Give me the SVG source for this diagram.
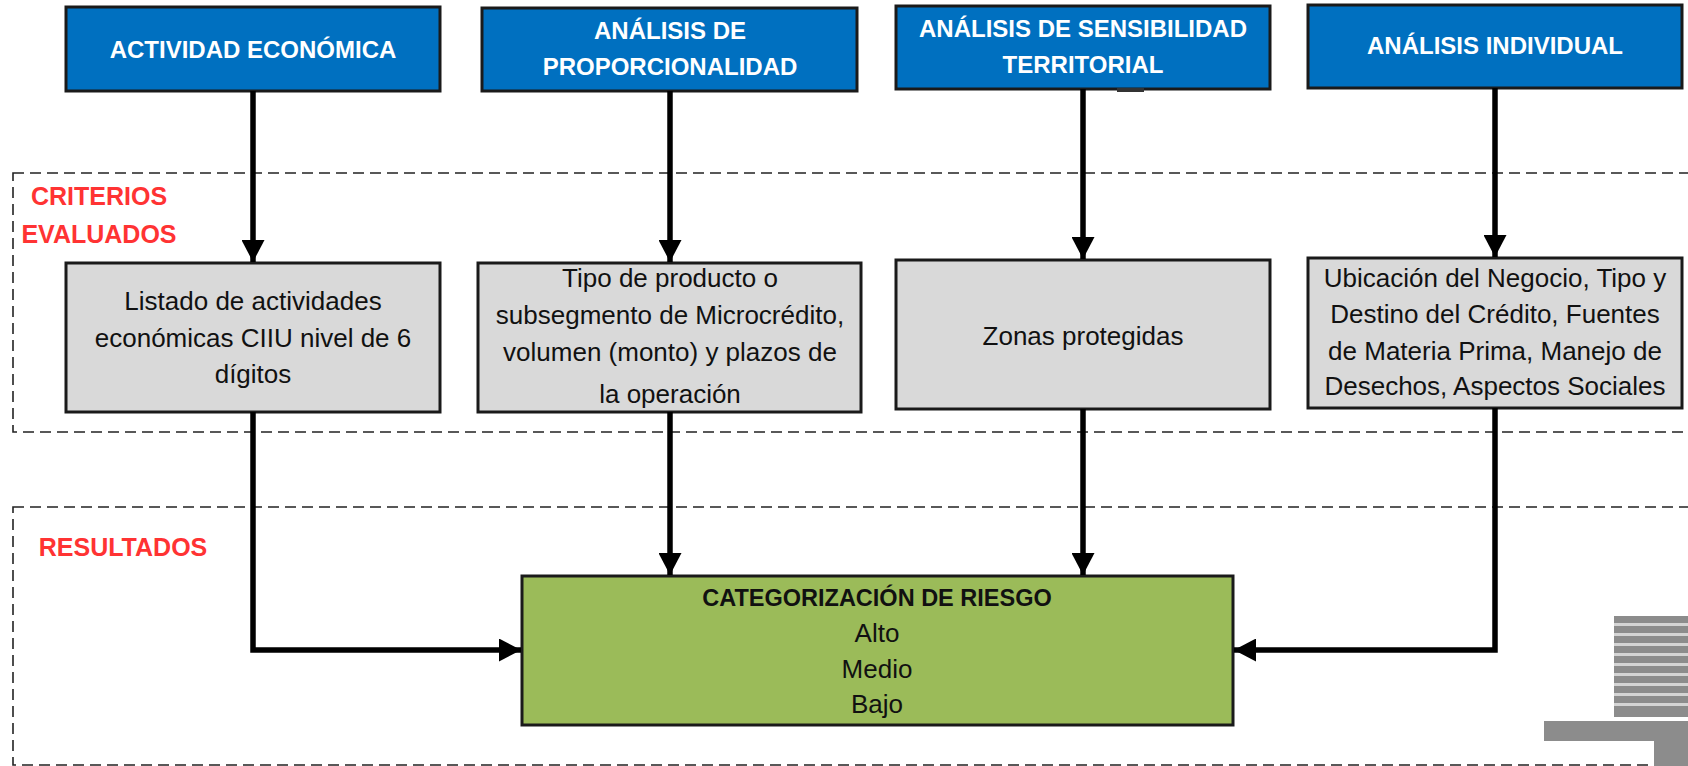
<svg xmlns="http://www.w3.org/2000/svg" width="1688" height="766" viewBox="0 0 1688 766">
<style>
.bg{fill:#ffffff}
.head rect{fill:#0070C0;stroke:#1a1a1a;stroke-width:3}
.head text{fill:#ffffff;font-family:"Liberation Sans",Arial,sans-serif;font-weight:bold;font-size:24px;text-anchor:middle}
.crit rect{fill:#D9D9D9;stroke:#1a1a1a;stroke-width:3}
.crit text{fill:#111111;font-family:"Liberation Sans",Arial,sans-serif;font-size:26px;text-anchor:middle}
.res rect{fill:#9BBB59;stroke:#1a1a1a;stroke-width:3}
.res text{fill:#111111;font-family:"Liberation Sans",Arial,sans-serif;font-size:26px;text-anchor:middle}
.res .title{font-weight:bold;font-size:23.5px}
.zone{fill:none;stroke:#222222;stroke-width:1.6;stroke-dasharray:11 6}
.zlabel{fill:#FF3333;font-family:"Liberation Sans",Arial,sans-serif;font-weight:bold;font-size:25px;text-anchor:middle}
.conn path{fill:none;stroke:#000000;stroke-width:5.5;stroke-linejoin:miter}
.logo{fill:#8c8c8c}
</style>
<defs>
<marker id="ah" viewBox="0 0 22 23" refX="22" refY="11.5" markerWidth="22" markerHeight="23" markerUnits="userSpaceOnUse" orient="auto">
<path d="M0,0 L22,11.5 L0,23 Z" fill="#000000"/>
</marker>
</defs>
<rect class="bg" x="0" y="0" width="1688" height="766"/>

<g id="zones">
<rect id="zone-criterios" class="zone" x="13" y="173" width="1700" height="259"/>
<rect id="zone-resultados" class="zone" x="13" y="507" width="1700" height="258"/>
<text class="zlabel" x="99" y="205">CRITERIOS</text>
<text class="zlabel" x="99" y="243">EVALUADOS</text>
<text class="zlabel" x="123" y="556">RESULTADOS</text>
</g>

<g id="logo">
<rect class="logo" x="1614" y="616" width="80" height="101"/>
<g fill="#d4d4d4">
<rect x="1614" y="623" width="80" height="3"/>
<rect x="1614" y="633" width="80" height="3"/>
<rect x="1614" y="643" width="80" height="3"/>
<rect x="1614" y="653" width="80" height="3"/>
<rect x="1614" y="663" width="80" height="3"/>
<rect x="1614" y="673" width="80" height="3"/>
<rect x="1614" y="683" width="80" height="3"/>
<rect x="1614" y="693" width="80" height="3"/>
<rect x="1614" y="703" width="80" height="3"/>
</g>
<rect class="logo" x="1544" y="721" width="150" height="20"/>
<rect class="logo" x="1654" y="741" width="40" height="30"/>
</g>

<g id="h1" class="head">
<rect x="66" y="7" width="374" height="84"/>
<text x="253" y="58">ACTIVIDAD ECONÓMICA</text>
</g>
<g id="h2" class="head">
<rect x="482" y="8" width="375" height="83"/>
<text x="670" y="39">ANÁLISIS DE</text>
<text x="670" y="75">PROPORCIONALIDAD</text>
</g>
<g id="h3" class="head">
<rect x="896" y="6" width="374" height="83"/>
<text x="1083" y="37">ANÁLISIS DE SENSIBILIDAD</text>
<text x="1083" y="73">TERRITORIAL</text>
<rect x="1117" y="88" width="27" height="4" style="fill:#333333;stroke:none"/>
</g>
<g id="h4" class="head">
<rect x="1308" y="5" width="374" height="83"/>
<text x="1495" y="54">ANÁLISIS INDIVIDUAL</text>
</g>

<g id="c1" class="crit">
<rect x="66" y="263" width="374" height="149"/>
<text x="253" y="310">Listado de actividades</text>
<text x="253" y="347">económicas CIIU nivel de 6</text>
<text x="253" y="383">dígitos</text>
</g>
<g id="c2" class="crit">
<rect x="478" y="263" width="383" height="149"/>
<text x="670" y="287">Tipo de producto o</text>
<text x="670" y="324">subsegmento de Microcrédito,</text>
<text x="670" y="361">volumen (monto) y plazos de</text>
<text x="670" y="403">la operación</text>
</g>
<g id="c3" class="crit">
<rect x="896" y="260" width="374" height="149"/>
<text x="1083" y="345">Zonas protegidas</text>
</g>
<g id="c4" class="crit">
<rect x="1308" y="258" width="374" height="150"/>
<text x="1495" y="287">Ubicación del Negocio, Tipo y</text>
<text x="1495" y="323">Destino del Crédito, Fuentes</text>
<text x="1495" y="360">de Materia Prima, Manejo de</text>
<text x="1495" y="395">Desechos, Aspectos Sociales</text>
</g>

<g id="result" class="res">
<rect x="522" y="576" width="711" height="149"/>
<text class="title" x="877" y="606">CATEGORIZACIÓN DE RIESGO</text>
<text x="877" y="642">Alto</text>
<text x="877" y="678">Medio</text>
<text x="877" y="713">Bajo</text>
</g>

<g id="connectors" class="conn">
<path d="M253,91 V262" marker-end="url(#ah)"/>
<path d="M670,91 V262" marker-end="url(#ah)"/>
<path d="M1083,89 V259" marker-end="url(#ah)"/>
<path d="M1495,88 V257" marker-end="url(#ah)"/>
<path d="M253,412 V650 H521" marker-end="url(#ah)"/>
<path d="M670,412 V575" marker-end="url(#ah)"/>
<path d="M1083,409 V575" marker-end="url(#ah)"/>
<path d="M1495,408 V650 H1234" marker-end="url(#ah)"/>
</g>
</svg>
